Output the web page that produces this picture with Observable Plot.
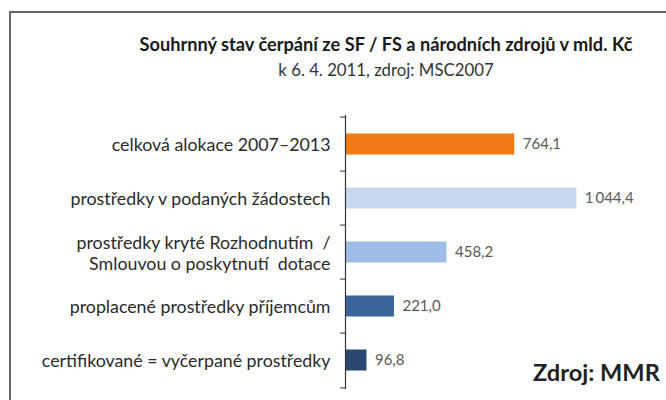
<!DOCTYPE html>
<html>
<head>
<meta charset="utf-8">
<script src="https://cdn.jsdelivr.net/npm/d3@7"></script>
<script src="https://cdn.jsdelivr.net/npm/@observablehq/plot@0.6"></script>
<style>
  html, body { margin: 0; padding: 0; background: #fff; }
  #wrap { position: relative; width: 666px; height: 400px; overflow: hidden; font-family: Lato, sans-serif; }
  #frame { position: absolute; left: 9px; top: 11px; width: 720px; height: 460px; border: 2px solid #666; pointer-events: none; }
  .t { position: absolute; left: 0; width: 772px; text-align: center; color: #1a1a1a; white-space: nowrap; line-height: 1.2; }
  #title { top: 34px; font-size: 18.2px; font-weight: bold; }
  #subtitle { top: 60px; font-size: 16.8px; color: #333; }
  #source { position: absolute; left: 533px; top: 358px; font-size: 23.6px; font-weight: bold; color: #222; white-space: nowrap; line-height: 1.2; }
  #chart { position: absolute; left: 0; top: 0; }
</style>
</head>
<body>
<div id="wrap">
  <div id="chart"></div>
  <div id="frame"></div>
  <div class="t" id="title">Souhrnný stav čerpání ze SF / FS a národních zdrojů v mld. Kč</div>
  <div class="t" id="subtitle">k 6. 4. 2011, zdroj: MSC2007</div>
  <div id="source">Zdroj: MMR</div>
</div>
<script>
const categories = [
  "celková alokace 2007–2013",
  "prostředky v podaných žádostech",
  "prostředky kryté Rozhodnutím\u00a0 /\nSmlouvou o poskytnutí\u00a0 dotace",
  "proplacené prostředky příjemcům",
  "certifikované = vyčerpané prostředky"
];
const values = [764.1, 1044.4, 458.2, 221.0, 96.8];
const colors = ["#F27A14", "#C6D9F1", "#9DBDE6", "#3A659A", "#29466E"];

const data = categories.map((c, i) => ({cat: c, value: values[i], color: colors[i]}));
const czFmt = d3.formatLocale({decimal: ",", thousands: "\u2009", grouping: [3], currency: ["", " Kč"]}).format(",.1f");

const step = (389 - 115) / categories.length;

const chart = Plot.plot({
  width: 666,
  height: 400,
  marginTop: 115,
  marginBottom: 11,
  marginLeft: 345,
  marginRight: 33,
  style: {background: "transparent", fontFamily: "Lato, sans-serif"},
  x: {domain: [0, 1300], axis: null},
  y: {domain: categories, padding: 0, axis: null},
  marks: [
    Plot.barX(data, {y: "cat", x: "value", fill: d => d.color, insetTop: 16.5, insetBottom: 16.5}),
    Plot.text(data, {y: "cat", x: "value", text: d => czFmt(d.value), dx: 8, textAnchor: "start", fontSize: 15, fill: "#595959"}),
    Plot.axisY({label: null, tickSize: 0, tickPadding: 15, fontSize: 17.8, fill: "#2a2a2a", lineHeight: 1.18, textAnchor: "end"}),
    Plot.axisY({label: null, text: null, tickSize: 5, dy: -step / 2, stroke: "#333"}),
    Plot.axisY([categories[categories.length - 1]], {label: null, text: null, tickSize: 5, dy: step / 2, stroke: "#333"}),
    Plot.ruleX([0], {stroke: "#333", strokeWidth: 1.2})
  ]
});
document.getElementById("chart").appendChild(chart);
</script>
</body>
</html>
